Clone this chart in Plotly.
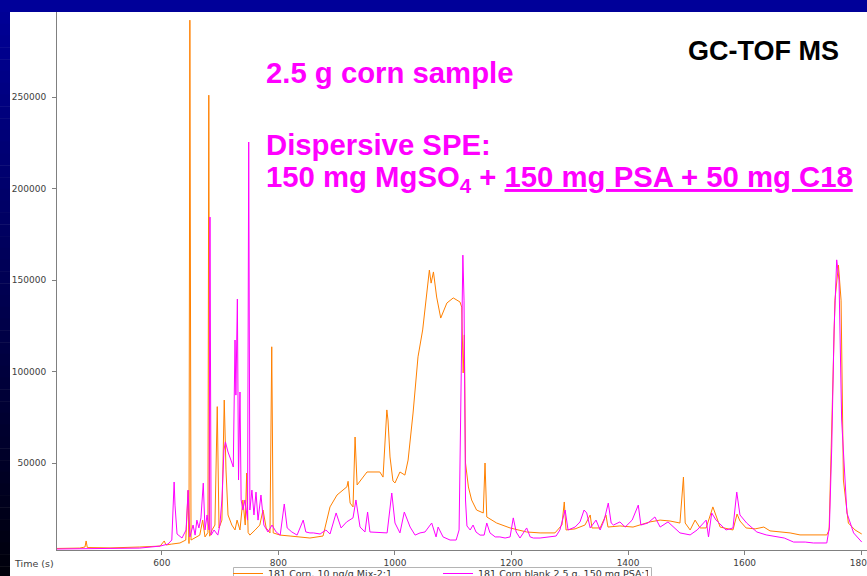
import plotly.graph_objects as go

# ---------------- data ----------------
orange_name = "181 Corn, 10 ng/g Mix-2:1"
orange_t = [420, 459, 468, 470, 472, 511, 562, 597, 604, 607,
            617, 631, 641, 645, 646.5, 648, 650, 657, 665, 670,
            674, 679, 680.5, 682, 686, 691, 695, 698, 703, 707,
            710, 713.5, 720, 725.5, 729, 734, 739, 743, 745.5, 748,
            751, 760, 768, 773.5, 779, 785.5, 788.5, 791, 803, 820,
            837, 854, 876.5, 888.5, 900.5, 917.5, 919.5, 923, 928, 931.5,
            935, 952, 974, 979.5, 986, 988, 991.5, 996.5, 1000, 1008.5,
            1017, 1022.5, 1031, 1039.5, 1047.5, 1054.5, 1059, 1062, 1066, 1071.5,
            1078.5, 1089, 1100, 1111.5, 1114.5, 1117, 1119, 1121, 1126, 1131.5,
            1140, 1151.5, 1154.5, 1157.5, 1174.5, 1197.5, 1226, 1249, 1274.5, 1286.5,
            1290.5, 1293.5, 1309, 1326, 1335, 1338, 1352, 1362, 1365.5, 1386,
            1408.5, 1437.5, 1455, 1472, 1489, 1495, 1498, 1506.5, 1515, 1523.5,
            1534, 1545.5, 1551, 1558, 1580, 1587, 1592, 1602.5, 1618, 1633,
            1643.5, 1661, 1678, 1695, 1721, 1741, 1745, 1749.5, 1755, 1761,
            1765.5, 1769.5, 1778, 1789.5, 1801]
orange_v = [3300, 3500, 4100, 7400, 3800, 3600, 4100, 4600, 7400, 5200,
            5700, 6300, 7900, 35000, 6000, 292000, 7900, 9000, 10600, 18800,
            9600, 12000, 251000, 10000, 13400, 16100, 80800, 14500, 18800, 84400,
            46200, 21600, 16100, 13400, 18800, 13400, 29800, 16100, 44500, 12000,
            10600, 13400, 16100, 24300, 14500, 11800, 113500, 11800, 10600, 10100,
            9600, 9000, 10100, 26000, 32500, 37000, 40000, 28100, 26000, 64200,
            38000, 45100, 45100, 42300, 79000, 73500, 53300, 40200, 39100, 45100,
            43400, 51600, 77300, 108000, 122700, 144500, 155400, 148300, 154400, 140700,
            129200, 137400, 140200, 138000, 135200, 99200, 120000, 50000, 36900, 29800,
            24300, 22700, 50000, 20500, 17200, 14500, 12300, 11800, 11800, 16100,
            28700, 13400, 14000, 16100, 21600, 14500, 14500, 21600, 15000, 15600,
            15000, 17800, 18800, 18300, 17200, 42300, 17200, 13400, 18800, 14500,
            14500, 26000, 21600, 15000, 13400, 22100, 18300, 14500, 14000, 15000,
            12900, 12300, 11800, 10700, 10700, 10700, 13400, 77300, 139000, 158200,
            139000, 40700, 17200, 13400, 11200]

magenta_name = "181 Corn blank 2.5 g, 150 mg PSA:1"
magenta_t = [420, 494, 562, 597, 610.5, 617, 621, 622.5, 626, 634.5,
             641.5, 645, 648, 653.5, 657, 660, 663.5, 667, 671, 674,
             677.5, 681, 682.5, 684.5, 689.5, 696, 699.5, 703, 706.5, 709,
             713.5, 718.5, 722.5, 725.5, 727, 729.5, 731.5, 734, 736, 739,
             742.5, 747, 749, 751, 754.5, 758, 761.5, 765, 770, 775,
             782, 789, 796, 803, 810, 815, 823, 832, 842.5, 847,
             854, 860, 871.5, 881.5, 888.5, 899, 907.5, 917, 928, 933,
             940, 948.5, 953, 957, 974, 986.5, 994.5, 1000, 1008.5, 1016,
             1026, 1034.5, 1043, 1051.5, 1063, 1070.5, 1074, 1082.5, 1094.5, 1105,
             1110, 1113.5, 1116.5, 1118.5, 1121, 1123.5, 1129, 1134, 1139, 1146,
             1153, 1157.5, 1163, 1172, 1180, 1189, 1197.5, 1203, 1208, 1214.5,
             1226, 1232, 1237.5, 1249, 1266, 1276.5, 1283, 1292, 1297, 1309,
             1317.5, 1324.5, 1329, 1335, 1345, 1352, 1359, 1366, 1371, 1375,
             1386, 1395, 1407, 1417.5, 1422, 1434, 1446, 1455, 1468.5, 1480.5,
             1489, 1506.5, 1518.5, 1534, 1538, 1543.5, 1551, 1568, 1580, 1586.5,
             1592, 1603.5, 1621, 1637, 1655, 1668, 1684, 1704, 1718, 1741,
             1745.5, 1749.5, 1753.5, 1758, 1762, 1766.5, 1775.5, 1787, 1801]
magenta_v = [3000, 3300, 3500, 4600, 5700, 7900, 39600, 27000, 11200, 9000,
             13400, 35200, 9600, 16100, 10600, 18800, 14500, 20000, 39000, 13400,
             21600, 13400, 184400, 10600, 13400, 10600, 16100, 29800, 57100, 61500,
             56000, 51600, 47800, 117200, 87100, 139600, 40700, 88800, 29800, 24300,
             29800, 18800, 225400, 24300, 35200, 21600, 34100, 18800, 32500, 16100,
             12300, 16100, 12300, 10600, 27600, 14500, 12300, 10600, 18800, 12300,
             11800, 11800, 11200, 13400, 11200, 22700, 14500, 17800, 20000, 29800,
             15000, 12300, 23200, 12300, 11800, 11800, 33600, 17200, 11800, 23200,
             15000, 10600, 11800, 12300, 17200, 9600, 15000, 9600, 7900, 7900,
             13400, 84400, 163600, 139000, 29800, 15600, 13400, 16100, 12300, 10600,
             10600, 17200, 11800, 9600, 9600, 9000, 9600, 20000, 12300, 9000,
             14500, 9600, 9000, 9000, 9600, 10100, 13400, 24300, 13400, 15000,
             17800, 24300, 22700, 14500, 18800, 13400, 18800, 28100, 17200, 16100,
             17800, 15000, 18800, 27000, 16100, 17200, 20500, 15000, 17800, 14500,
             11800, 10700, 13400, 18800, 9600, 22700, 18800, 13400, 14500, 34100,
             21600, 17200, 12300, 10700, 9600, 9000, 6800, 6800, 6300, 6300,
             15000, 58700, 122700, 161000, 150000, 73500, 22700, 11800, 6800]

x_ticks = [600, 800, 1000, 1200, 1400, 1600, 1800]
y_ticks = [50000, 100000, 150000, 200000, 250000]
x_range = [420, 1810]
y_range = [2459, 296448]

# ---------------- layout helpers ----------------
W, H = 867, 576
ML, MR, MT, MB = 57, 0, 12, 26
PW = W - ML - MR
PH = H - MT - MB


def px(xp):
    return (xp - ML) / PW


def py(yp):
    return (H - MB - yp) / PH


fig = go.Figure()
fig.add_trace(go.Scatter(x=orange_t, y=orange_v, mode="lines", name=orange_name,
                         line=dict(color="#ff8000", width=1)))
fig.add_trace(go.Scatter(x=magenta_t, y=magenta_v, mode="lines", name=magenta_name,
                         line=dict(color="#ff00ff", width=1)))

shapes = []
# top dark-blue band
shapes.append(dict(type="rect", xref="paper", yref="paper", x0=px(-5), x1=px(W + 5),
                   y0=py(12), y1=py(-5), fillcolor="#000099", line=dict(width=0),
                   layer="above"))
# left gradient band (blue to black)
steps = 48
top, bot = 12, H + 2
for i in range(steps):
    y0p = top + (bot - top) * i / steps
    y1p = top + (bot - top) * (i + 1) / steps
    f = (i + 0.5) / steps
    b = int(round(150 * (1 - f) + 10 * f))
    shapes.append(dict(type="rect", xref="paper", yref="paper", x0=px(-5), x1=px(10),
                       y0=py(y1p + 0.5), y1=py(y0p), fillcolor=f"rgb(0,0,{b})",
                       line=dict(width=0), layer="above"))
# legend frame
shapes.append(dict(type="rect", xref="paper", yref="paper", x0=px(233.5), x1=px(651.5),
                   y0=py(590), y1=py(567.5), fillcolor="white",
                   line=dict(width=1, color="#b4b4b4"), layer="above"))

tick_font = dict(family="DejaVu Sans, Verdana, sans-serif", size=9, color="#404040")
big = "Liberation Sans, Arial, sans-serif"

annotations = [
    dict(text="<b>GC-TOF MS</b>", xref="paper", yref="paper", x=px(763), y=py(51),
         xanchor="center", yanchor="middle", showarrow=False,
         font=dict(family=big, size=27, color="#000000")),
    dict(text="<b>2.5 g corn sample</b>", xref="paper", yref="paper", x=px(264), y=py(73),
         xanchor="left", yanchor="middle", showarrow=False,
         font=dict(family=big, size=29.3, color="#ff00ff")),
    dict(text="<b>Dispersive SPE:</b>", xref="paper", yref="paper", x=px(264), y=py(144),
         xanchor="left", yanchor="middle", showarrow=False,
         font=dict(family=big, size=29.3, color="#ff00ff")),
    dict(text="<b>150 mg MgSO<sub>4</sub> + <u>150 mg PSA + 50 mg C18</u></b>",
         xref="paper", yref="paper", x=px(264), y=py(179),
         xanchor="left", yanchor="middle", showarrow=False,
         font=dict(family=big, size=29.3, color="#ff00ff")),
    dict(text="Time (s)", xref="paper", yref="paper", x=px(56), y=py(563),
         xanchor="right", yanchor="middle", showarrow=False,
         font=dict(family="DejaVu Sans, Verdana, sans-serif", size=9.5, color="#404040")),
]

fig.update_layout(
    width=W, height=H,
    margin=dict(l=ML, r=MR, t=MT, b=MB, pad=0, autoexpand=False),
    paper_bgcolor="white", plot_bgcolor="white",
    showlegend=True,
    legend=dict(orientation="h", x=px(228), y=py(559), xanchor="left", yanchor="top",
                bgcolor="rgba(0,0,0,0)", borderwidth=0,
                font=dict(family="DejaVu Sans, Verdana, sans-serif", size=9.5, color="#333333"),
                entrywidth=165, entrywidthmode="pixels", itemwidth=30),
    xaxis=dict(range=x_range, tickvals=x_ticks, ticktext=[str(v) for v in x_ticks],
               showline=True, linecolor="#808080", linewidth=1, ticks="outside",
               ticklen=4, tickcolor="#808080", showgrid=False, zeroline=False,
               tickfont=tick_font, ticklabeloverflow="allow"),
    yaxis=dict(range=y_range, tickvals=y_ticks, ticktext=[str(v) for v in y_ticks],
               showline=True, linecolor="#808080", linewidth=1, ticks="outside",
               ticklen=4, tickcolor="#808080", showgrid=False, zeroline=False,
               tickfont=tick_font, ticklabelstandoff=4),
    shapes=shapes,
    annotations=annotations,
    hovermode=False,
)

fig.write_html("out.html", config={"displayModeBar": False},
               post_script="document.body.style.margin='0';document.body.style.overflow='hidden';")
